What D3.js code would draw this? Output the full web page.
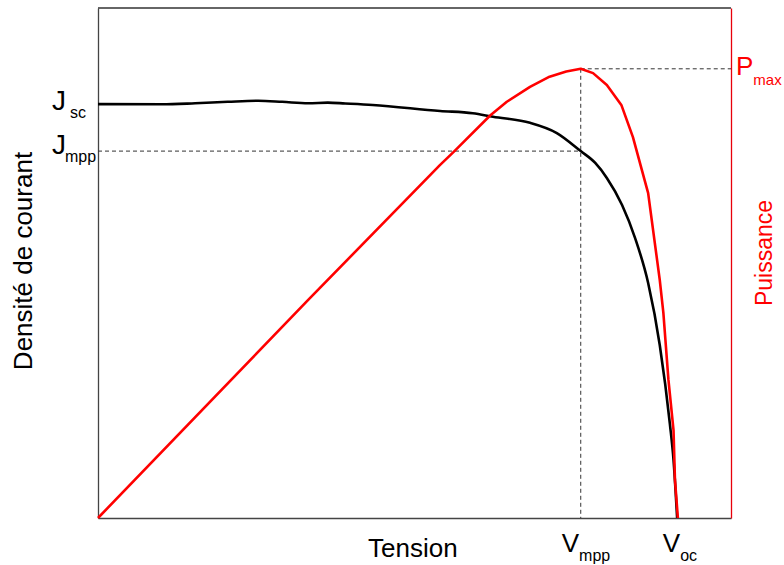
<!DOCTYPE html>
<html><head><meta charset="utf-8">
<script src="https://cdn.jsdelivr.net/npm/d3@7"></script>
<style>
html,body{margin:0;padding:0;background:#fff;}
svg text{font-family:"Liberation Sans",Arial,sans-serif;}
</style>
</head><body>
<svg id="chart" width="784" height="565"></svg>
<script>
// ---- data (voltage in V, current density in mA/cm², power in mW/cm²) ----
const voltageJ = [0, 0.088, 0.134, 0.179, 0.221, 0.254, 0.290, 0.317, 0.341, 0.379, 0.472, 0.517, 0.545, 0.596, 0.633, 0.666, 0.686, 0.702, 0.723, 0.741, 0.759, 0.775, 0.789, 0.794, 0.799];
const currentJ = [19.90, 19.89, 19.94, 20.01, 20.06, 20.01, 19.94, 19.97, 19.93, 19.86, 19.57, 19.46, 19.29, 19.00, 18.51, 17.64, 17.07, 16.35, 15.05, 13.46, 11.30, 8.32, 4.52, 2.79, 0];
const voltageP = [0, 0.290, 0.472, 0.490, 0.541, 0.564, 0.596, 0.623, 0.646, 0.666, 0.683, 0.702, 0.722, 0.738, 0.759, 0.775, 0.780, 0.787, 0.794, 0.796, 0.800];
const powerP   = [0, 5.56, 9.00, 9.32, 10.26, 10.61, 10.99, 11.25, 11.38, 11.45, 11.34, 11.04, 10.53, 9.71, 8.28, 6.07, 5.23, 3.52, 2.24, 0.97, 0];
const Jsc = 20.0, Jmpp = 17.64, Vmpp = 0.666, Voc = 0.800, Pmax = 11.45;
const xTitle = "Tension", yTitle = "Densité de courant", y2Title = "Puissance";
const yTickLabels = [{value: Jsc, main: "J", sub: "sc"}, {value: Jmpp, main: "J", sub: "mpp"}];
const xTickLabels = [{value: Vmpp, main: "V", sub: "mpp"}, {value: Voc, main: "V", sub: "oc"}];
const y2TickLabels = [{value: Pmax, main: "P", sub: "max"}];

// ---- layout ----
const L = 98, R = 731, T = 8, B = 518;
const svg = d3.select("#chart");
const x = d3.scaleLinear().domain([0, 0.8733]).range([L, R]);
const yJ = d3.scaleLinear().domain([0, 24.52]).range([B, T]);
const yP = d3.scaleLinear().domain([0, 13]).range([B, T]);

// frame
svg.append("line").attr("x1", L).attr("x2", R).attr("y1", T).attr("y2", T)
  .attr("stroke", "#333").attr("stroke-width", 1.3);
const gl = svg.append("g").attr("transform", `translate(${L},0)`)
  .call(d3.axisLeft(yJ).tickValues([]).tickSizeOuter(0));
gl.select(".domain").attr("stroke", "#444").attr("stroke-width", 1.3);
const gb = svg.append("g").attr("transform", `translate(0,${B})`)
  .call(d3.axisBottom(x).tickValues([]).tickSizeOuter(0));
gb.select(".domain").attr("stroke", "#444").attr("stroke-width", 1.3);
const gr = svg.append("g").attr("transform", `translate(${R},0)`)
  .call(d3.axisRight(yP).tickValues([]).tickSizeOuter(0));
gr.select(".domain").attr("stroke", "#e8000b").attr("stroke-width", 1.3);

// dashed guides
const dash = "4,3";
svg.append("line").attr("x1", x(0)).attr("x2", x(Vmpp)).attr("y1", yJ(Jmpp)).attr("y2", yJ(Jmpp))
  .attr("stroke", "#333").attr("stroke-dasharray", dash).attr("stroke-width", 1);
svg.append("line").attr("x1", x(Vmpp)).attr("x2", x(Vmpp)).attr("y1", yP(Pmax)).attr("y2", B)
  .attr("stroke", "#333").attr("stroke-dasharray", dash).attr("stroke-width", 1);
svg.append("line").attr("x1", x(Vmpp)).attr("x2", R).attr("y1", yP(Pmax)).attr("y2", yP(Pmax))
  .attr("stroke", "#333").attr("stroke-dasharray", dash).attr("stroke-width", 1);

// curves
const lineJ = d3.line().x((d, i) => x(voltageJ[i])).y(d => yJ(d)).curve(d3.curveMonotoneX);
const lineP = d3.line().x((d, i) => x(voltageP[i])).y(d => yP(d)).curve(d3.curveLinear);
svg.append("path").datum(currentJ).attr("d", lineJ)
  .attr("fill", "none").attr("stroke", "#000").attr("stroke-width", 2.6).attr("stroke-linejoin", "round");
svg.append("path").datum(powerP).attr("d", lineP)
  .attr("fill", "none").attr("stroke", "#ff0000").attr("stroke-width", 2.6).attr("stroke-linejoin", "round");

// labels helper
function subLabel(g, main, sub, x0, y0, color, mainSize, subSize, subDx, subDy) {
  const t = g.append("text").attr("x", x0).attr("y", y0).attr("fill", color);
  t.append("tspan").attr("font-size", mainSize).text(main);
  t.append("tspan").attr("font-size", subSize).attr("dx", subDx).attr("dy", subDy).text(sub);
}
// y tick labels
subLabel(svg, yTickLabels[0].main, yTickLabels[0].sub, 52, yJ(yTickLabels[0].value) + 7.5, "#000", 28, 16, 4, 8.5);
subLabel(svg, yTickLabels[1].main, yTickLabels[1].sub, 52, yJ(yTickLabels[1].value) + 3, "#000", 28, 16, -1, 8);
// x tick labels
subLabel(svg, xTickLabels[0].main, xTickLabels[0].sub, x(xTickLabels[0].value) - 19, 552, "#000", 26, 16, 0, 9);
subLabel(svg, xTickLabels[1].main, xTickLabels[1].sub, x(xTickLabels[1].value) - 15, 552, "#000", 26, 16, 0, 9);
// right tick label
subLabel(svg, y2TickLabels[0].main, y2TickLabels[0].sub, 736, yP(y2TickLabels[0].value) + 6, "#ff0000", 26, 15, 0, 10);

// axis titles
svg.append("text").attr("x", 368).attr("y", 557).attr("font-size", 26).attr("fill", "#000").text(xTitle);
svg.append("text").attr("transform", "translate(32,261) rotate(-90)").attr("text-anchor", "middle")
  .attr("font-size", 26).attr("fill", "#000").text(yTitle);
svg.append("text").attr("transform", "translate(772,253) rotate(-90)").attr("text-anchor", "middle")
  .attr("font-size", 23).attr("fill", "#ff0000").text(y2Title);
</script>
</body></html>
